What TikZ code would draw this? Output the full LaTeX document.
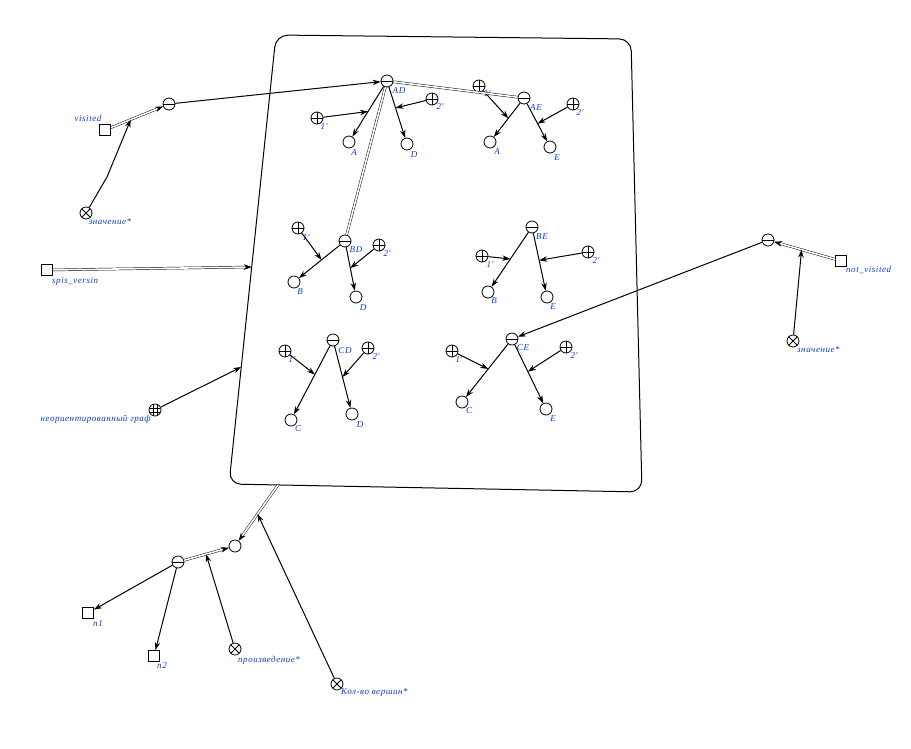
\documentclass[tikz,border=0pt]{standalone}
\usepackage{fontspec}
\setmainfont{Liberation Serif}
\newfontfamily\lblfont[LetterSpace=6]{Liberation Serif}
\usetikzlibrary{arrows.meta}
\definecolor{lblue}{RGB}{10,60,200}
\begin{document}
\begin{tikzpicture}[x=1pt,y=-1pt,
  base/.style={circle,draw,minimum size=12,inner sep=0,line width=0.8},
  minusn/.style={base,path picture={\draw[line width=0.8] (path picture bounding box.west) -- (path picture bounding box.east);}},
  plusn/.style={base,path picture={\draw[line width=0.8] (path picture bounding box.west) -- (path picture bounding box.east) (path picture bounding box.north) -- (path picture bounding box.south);}},
  otn/.style={base,path picture={\draw[line width=0.8] (path picture bounding box.north west) -- (path picture bounding box.south east) (path picture bounding box.north east) -- (path picture bounding box.south west);}},
  gridn/.style={base,path picture={\draw[line width=0.5] ([xshift=-2]path picture bounding box.north) -- ([xshift=-2]path picture bounding box.south) ([xshift=2]path picture bounding box.north) -- ([xshift=2]path picture bounding box.south) ([yshift=-2]path picture bounding box.west) -- ([yshift=-2]path picture bounding box.east) ([yshift=2]path picture bounding box.west) -- ([yshift=2]path picture bounding box.east);}},
  sq/.style={draw,rectangle,minimum size=11,inner sep=0,line width=0.8},
  lbl/.style={font=\lblfont\fontsize{9}{10}\selectfont\itshape,text=lblue,inner sep=0},
  arr/.style={line width=1.0,-{Stealth[length=8,width=5.5]}},
  dbl/.style={double,double distance=1.6,line width=0.45,-{Stealth[length=8,width=5.5]}},
  dbln/.style={double,double distance=1.6,line width=0.45}
]
\useasboundingbox (0,0) rectangle (911,748);
% main box
\draw[line width=1.0,rounded corners=12] (276,35) -- (631,39) -- (642,492) -- (229,484) -- cycle;
\coordinate (eL1) at (251.7,267);
\coordinate (eL2) at (241.2,367);
\coordinate (eB) at (278,485);

% top-left
\node[sq] (visited) at (105,130) {};
\node[lbl] (lvisited) at (88,118) {visited};
\node[minusn] (m1) at (169,104) {};
\node[otn] (z1) at (86,213) {};
\node[lbl] (lz1) at (110,222) {значение*};
\path (visited) -- (m1) coordinate[pos=0.38] (v1);
\coordinate (bend1) at (107,177);
\draw[dbl] (visited) -- (m1);
\draw[arr] (z1) -- (bend1) -- (v1);

% AD group
\node[minusn] (AD) at (387,81) {};
\node[lbl] (lAD) at (399,91) {AD};
\node[plusn] (p1AD) at (317,118) {};
\node[lbl] (lp1AD) at (324,127) {1'};
\node[base] (A1) at (349,142) {};
\node[lbl] (lA1) at (354,153) {A};
\node[base] (D1) at (407,144) {};
\node[lbl] (lD1) at (414,155) {D};
\node[plusn] (p2AD) at (432,99) {};
\node[lbl] (lp2AD) at (440,107) {2'};
\draw[arr] (AD) -- (A1) coordinate[pos=0.5] (c1);
\draw[arr] (AD) -- (D1) coordinate[pos=0.41] (c2);
\draw[arr] (p1AD) -- (c1);
\draw[arr] (p2AD) -- (c2);
\draw[arr] (m1) -- (AD);

% AE group
\node[minusn] (AE) at (524,98) {};
\node[lbl] (lAE) at (536,108) {AE};
\node[plusn] (p1AE) at (479,86) {};
\node[lbl] (lp1AE) at (487,94) {1'};
\node[base] (A2) at (490,142) {};
\node[lbl] (lA2) at (497,152) {A};
\node[base] (E2) at (550,147) {};
\node[lbl] (lE2) at (557,158) {E};
\node[plusn] (p2AE) at (573,104) {};
\node[lbl] (lp2AE) at (580,113) {2'};
\draw[arr] (AE) -- (A2) coordinate[pos=0.45] (c3);
\draw[arr] (AE) -- (E2) coordinate[pos=0.53] (c4);
\draw[arr] (p1AE) -- (c3);
\draw[arr] (p2AE) -- (c4);

% BD group
\node[minusn] (BD) at (345,241) {};
\node[lbl] (lBD) at (356,250) {BD};
\node[plusn] (p1BD) at (298,228) {};
\node[lbl] (lp1BD) at (306,238) {1'};
\node[base] (B3) at (294,282) {};
\node[lbl] (lB3) at (300,292) {B};
\node[base] (D3) at (356,297) {};
\node[lbl] (lD3) at (363,308) {D};
\node[plusn] (p2BD) at (379,245) {};
\node[lbl] (lp2BD) at (387,254) {2'};
\draw[arr] (BD) -- (B3) coordinate[pos=0.45] (c5);
\draw[arr] (BD) -- (D3) coordinate[pos=0.48] (c6);
\draw[arr] (p1BD) -- (c5);
\draw[arr] (p2BD) -- (c6);

\draw[dbln] (AD) -- (AE);
\draw[dbln] (AD) -- (BD);

% BE group
\node[minusn] (BE) at (532,227) {};
\node[lbl] (lBE) at (542,237) {BE};
\node[plusn] (p1BE) at (482,256) {};
\node[lbl] (lp1BE) at (490,265) {1'};
\node[base] (B4) at (488,292) {};
\node[lbl] (lB4) at (494,301) {B};
\node[base] (E4) at (547,297) {};
\node[lbl] (lE4) at (553,307) {E};
\node[plusn] (p2BE) at (588,252) {};
\node[lbl] (lp2BE) at (596,261) {2'};
\draw[arr] (BE) -- (B4) coordinate[pos=0.49] (c7);
\draw[arr] (BE) -- (E4) coordinate[pos=0.47] (c8);
\draw[arr] (p1BE) -- (c7);
\draw[arr] (p2BE) -- (c8);

% CD group
\node[minusn] (CD) at (333,340) {};
\node[lbl] (lCD) at (345,351) {CD};
\node[plusn] (p1CD) at (285,351) {};
\node[lbl] (lp1CD) at (292,360) {1'};
\node[base] (C5) at (291,420) {};
\node[lbl] (lC5) at (298,429) {C};
\node[base] (D5) at (352,414) {};
\node[lbl] (lD5) at (360,425) {D};
\node[plusn] (p2CD) at (368,348) {};
\node[lbl] (lp2CD) at (376,357) {2'};
\draw[arr] (CD) -- (C5) coordinate[pos=0.42] (c9);
\draw[arr] (CD) -- (D5) coordinate[pos=0.5] (c10);
\draw[arr] (p1CD) -- (c9);
\draw[arr] (p2CD) -- (c10);

% CE group
\node[minusn] (CE) at (512,339) {};
\node[lbl] (lCE) at (523,348) {CE};
\node[plusn] (p1CE) at (452,351) {};
\node[lbl] (lp1CE) at (459,360) {1'};
\node[base] (C6) at (462,402) {};
\node[lbl] (lC6) at (469,411) {C};
\node[base] (E6) at (546,409) {};
\node[lbl] (lE6) at (553,419) {E};
\node[plusn] (p2CE) at (566,347) {};
\node[lbl] (lp2CE) at (574,356) {2'};
\draw[arr] (CE) -- (C6) coordinate[pos=0.47] (c11);
\draw[arr] (CE) -- (E6) coordinate[pos=0.46] (c12);
\draw[arr] (p1CE) -- (c11);
\draw[arr] (p2CE) -- (c12);

% right side
\node[minusn] (m2) at (768,240) {};
\node[sq] (nv) at (841,261) {};
\node[lbl,anchor=west] (lnv) at (846,270) {not\_visited};
\node[otn] (z2) at (793,341) {};
\node[lbl,anchor=west] (lz2) at (797,350) {значение*};
\draw[dbl] (nv) -- (m2) coordinate[pos=0.55] (v2);
\draw[arr] (z2) -- (v2);
\draw[arr] (m2) -- (CE);

% left side
\node[sq] (sv) at (47,270) {};
\node[lbl,anchor=west] (lsv) at (52,281) {spis\_versin};
\draw[dbl] (sv) -- (eL1);
\node[gridn] (gr) at (155,410) {};
\node[lbl,anchor=east] (lgr) at (151,419) {неориентированный граф};
\draw[arr] (gr) -- (eL2);

% bottom
\node[base] (res) at (235,546) {};
\node[minusn] (m3) at (178,562) {};
\node[sq] (n1) at (88,613) {};
\node[lbl] (ln1) at (98,624) {n1};
\node[sq] (n2) at (154,656) {};
\node[lbl] (ln2) at (162,666) {n2};
\node[otn] (pr) at (235,649) {};
\node[lbl,anchor=west] (lpr) at (238,660) {произведение*};
\node[otn] (kv) at (337,684) {};
\node[lbl,anchor=west] (lkv) at (341,693) {Кол-во вершин*};
\draw[dbl] (eB) -- (res) coordinate[pos=0.52] (v3);
\draw[dbl] (m3) -- (res) coordinate[pos=0.49] (v4);
\draw[arr] (m3) -- (n1);
\draw[arr] (m3) -- (n2);
\draw[arr] (pr) -- (v4);
\draw[arr] (kv) -- (v3);
\end{tikzpicture}
\end{document}
